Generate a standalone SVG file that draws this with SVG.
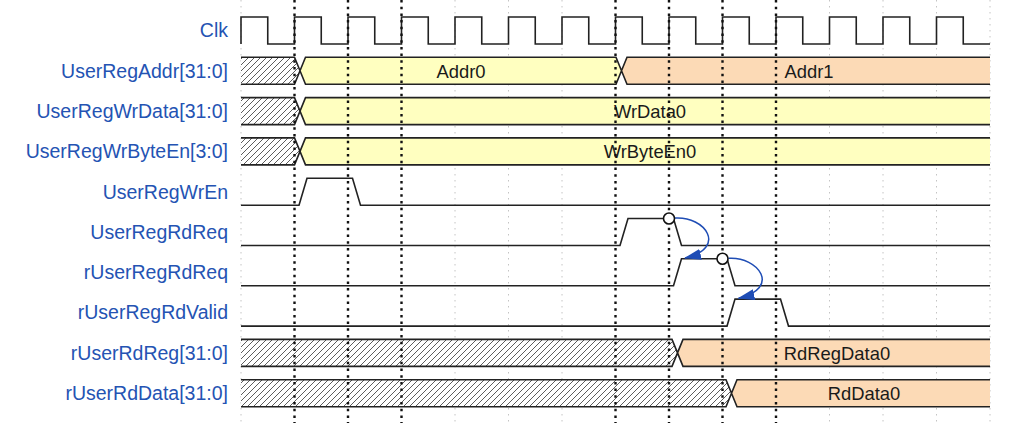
<svg xmlns="http://www.w3.org/2000/svg" width="1017" height="423" viewBox="0 0 1017 423">
<defs>
<style>
.lbl{font-family:"Liberation Sans",Arial,sans-serif;font-size:19.5px;fill:#2453b3;text-anchor:end}
.val{font-family:"Liberation Sans",Arial,sans-serif;font-size:18.4px;fill:#1a1a1a;text-anchor:middle}
.wave{fill:none;stroke:#222;stroke-width:1.6;stroke-linejoin:miter}
.grid{stroke:#c4c4c4;stroke-width:1;stroke-dasharray:1.5 4.5}
.mark{stroke:#111;stroke-width:2.4;stroke-dasharray:2.5 4.2}
.yel{fill:#ffffc0}
.org{fill:#fcdab6}
.hat{fill:url(#hatch)}
.arrow{fill:none;stroke:#1f4db5;stroke-width:1.5;marker-end:url(#ah)}
.dot{fill:#fff;stroke:#111;stroke-width:1.6}
</style>
<pattern id="hatch" patternUnits="userSpaceOnUse" width="6" height="6">
<rect width="6" height="6" fill="#fff"/>
<path d="M-1,1 L1,-1 M0,6 L6,0 M5,7 L7,5" stroke="#333" stroke-width="0.8"/>
</pattern>
<marker id="ah" markerUnits="userSpaceOnUse" viewBox="0 0 17 11" markerWidth="17" markerHeight="11" refX="16" refY="5.5" orient="auto">
<path d="M0,0 L17,5.5 L0,11 Z" fill="#1f4db5"/>
</marker>
</defs>
<rect width="1017" height="423" fill="#fff"/>
<g id="grid">
<line class="grid" x1="241" y1="0" x2="241" y2="423"/>
<line class="grid" x1="455" y1="0" x2="455" y2="423"/>
<line class="grid" x1="508.5" y1="0" x2="508.5" y2="423"/>
<line class="grid" x1="562" y1="0" x2="562" y2="423"/>
<line class="grid" x1="829.5" y1="0" x2="829.5" y2="423"/>
<line class="grid" x1="883" y1="0" x2="883" y2="423"/>
<line class="grid" x1="936.5" y1="0" x2="936.5" y2="423"/>
<line class="grid" x1="990" y1="0" x2="990" y2="423"/>
</g>
<g id="clk">
<text class="lbl" x="228" y="37.3">Clk</text>
<path class="wave" d="M241,44 V17 H267.75 V44 H294.5 V17 H321.25 V44 H348 V17 H374.75 V44 H401.5 V17 H428.25 V44 H455 V17 H481.75 V44 H508.5 V17 H535.25 V44 H562 V17 H588.75 V44 H615.5 V17 H642.25 V44 H669 V17 H695.75 V44 H722.5 V17 H749.25 V44 H776 V17 H802.75 V44 H829.5 V17 H856.25 V44 H883 V17 H909.75 V44 H936.5 V17 H963.25 V44 H990"/>
</g>
<g id="addr">
<text class="lbl" x="228" y="77.6">UserRegAddr[31:0]</text>
<path class="hat" d="M241,57.3 H294.5 L300,70.8 L294.5,84.3 H241 Z"/>
<path class="yel" d="M300,70.8 L305.5,57.3 H616 L621.5,70.8 L616,84.3 H305.5 Z"/>
<path class="org" d="M621.5,70.8 L627,57.3 H990 V84.3 H627 Z"/>
<path class="wave" d="M241,57.3 H294.5 L305.5,84.3 H616 L627,57.3 H990 M241,84.3 H294.5 L305.5,57.3 H616 L627,84.3 H990"/>
<text class="val" x="461" y="77.6">Addr0</text>
<text class="val" x="809" y="77.6">Addr1</text>
</g>
<g id="wrdata">
<text class="lbl" x="228" y="117.9">UserRegWrData[31:0]</text>
<path class="hat" d="M241,97.6 H294.5 L300,111.1 L294.5,124.6 H241 Z"/>
<path class="yel" d="M300,111.1 L305.5,97.6 H990 V124.6 H305.5 Z"/>
<path class="wave" d="M241,97.6 H294.5 L305.5,124.6 H990 M241,124.6 H294.5 L305.5,97.6 H990"/>
<text class="val" x="650" y="117.9">WrData0</text>
</g>
<g id="wrbyteen">
<text class="lbl" x="228" y="158.2">UserRegWrByteEn[3:0]</text>
<path class="hat" d="M241,137.9 H294.5 L300,151.4 L294.5,164.9 H241 Z"/>
<path class="yel" d="M300,151.4 L305.5,137.9 H990 V164.9 H305.5 Z"/>
<path class="wave" d="M241,137.9 H294.5 L305.5,164.9 H990 M241,164.9 H294.5 L305.5,137.9 H990"/>
<text class="val" x="650" y="158.2">WrByteEn0</text>
</g>
<g id="wren">
<text class="lbl" x="228" y="198.5">UserRegWrEn</text>
<path class="wave" d="M241,205.2 H299 L307,178.2 H352.5 L360.5,205.2 H990"/>
</g>
<g id="rdreq">
<text class="lbl" x="228" y="238.8">UserRegRdReq</text>
<path class="wave" d="M241,245.5 H620 L628,218.5 H673.5 L681.5,245.5 H990"/>
</g>
<g id="rrdreq">
<text class="lbl" x="228" y="279.1">rUserRegRdReq</text>
<path class="wave" d="M241,285.8 H673.5 L681.5,258.8 H727 L735,285.8 H990"/>
</g>
<g id="rrdvalid">
<text class="lbl" x="228" y="319.4">rUserRegRdValid</text>
<path class="wave" d="M241,326.1 H727 L735,299.1 H780.5 L788.5,326.1 H990"/>
</g>
<g id="rrdreg">
<text class="lbl" x="228" y="359.7">rUserRdReg[31:0]</text>
<path class="hat" d="M241,339.4 H672 L677.5,352.9 L672,366.4 H241 Z"/>
<path class="org" d="M677.5,352.9 L683,339.4 H990 V366.4 H683 Z"/>
<path class="wave" d="M241,339.4 H672 L683,366.4 H990 M241,366.4 H672 L683,339.4 H990"/>
<text class="val" x="837" y="359.7">RdRegData0</text>
</g>
<g id="rrddata">
<text class="lbl" x="228" y="400">rUserRdData[31:0]</text>
<path class="hat" d="M241,379.7 H726 L731.5,393.2 L726,406.7 H241 Z"/>
<path class="org" d="M731.5,393.2 L737,379.7 H990 V406.7 H737 Z"/>
<path class="wave" d="M241,379.7 H726 L737,406.7 H990 M241,406.7 H726 L737,379.7 H990"/>
<text class="val" x="864" y="400">RdData0</text>
</g>
<g id="markers">
<line class="mark" x1="294.5" y1="0" x2="294.5" y2="423"/>
<line class="mark" x1="348" y1="0" x2="348" y2="423"/>
<line class="mark" x1="401.5" y1="0" x2="401.5" y2="423"/>
<line class="mark" x1="615.5" y1="0" x2="615.5" y2="423"/>
<line class="mark" x1="669" y1="0" x2="669" y2="423"/>
<line class="mark" x1="722.5" y1="0" x2="722.5" y2="423"/>
<line class="mark" x1="776" y1="0" x2="776" y2="423"/>
</g>
<g id="connectors">
<path class="arrow" d="M675,218 C705,216 728,248 685,258"/>
<path class="arrow" d="M728.5,258.3 C758.5,256.3 781.5,288.3 738.5,298.3"/>
<circle class="dot" cx="669" cy="218.5" r="5.5"/>
<circle class="dot" cx="722.5" cy="258.8" r="5.5"/>
</g>
</svg>
